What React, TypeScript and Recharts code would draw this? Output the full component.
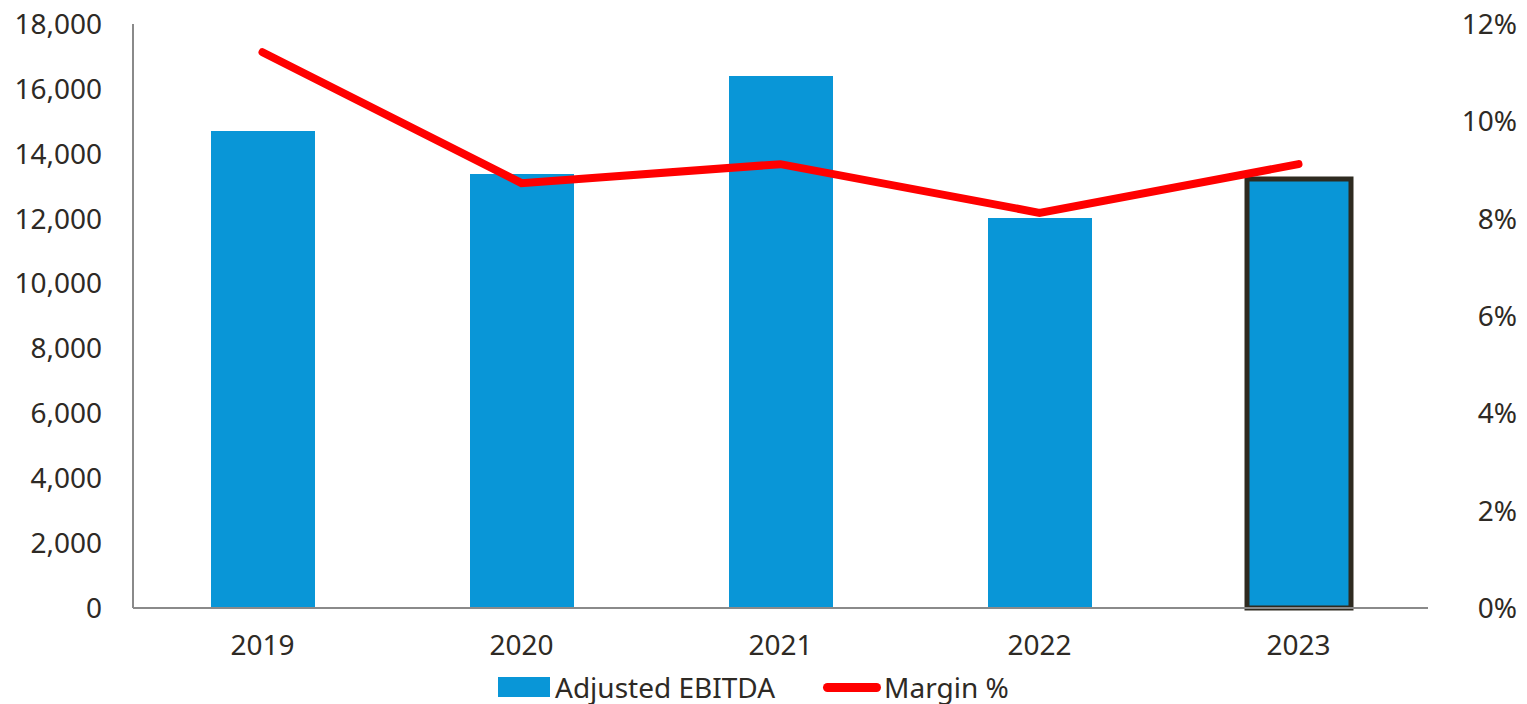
import { ComposedChart, Bar, Line, XAxis, YAxis, Legend, Cell } from "recharts";

const years = ["2019", "2020", "2021", "2022", "2023"];
const ebitda = [14700, 13380, 16400, 12020, 13220];
const margin = [0.1142, 0.0873, 0.0912, 0.0812, 0.0912];
const leftTicks = [0, 2000, 4000, 6000, 8000, 10000, 12000, 14000, 16000, 18000];
const rightTicks = [0, 0.02, 0.04, 0.06, 0.08, 0.1, 0.12];

const data = years.map((year, i) => ({ year, ebitda: ebitda[i], margin: margin[i] }));

const TEXT = "#2e2a25";
const AXIS = "#8a8a8a";
const BLUE = "#0996d7";
const RED = "#ff0000";
const FS = 28;

function RightTick(props: any) {
  const { x, y, payload } = props;
  return (
    <text x={x + 89} y={y} dy={10} textAnchor="end" fill={TEXT} fontSize={FS}>
      {`${Math.round(payload.value * 100)}%`}
    </text>
  );
}

function LegendContent() {
  return (
    <div style={{ display: "flex", alignItems: "center", fontSize: FS, color: TEXT, whiteSpace: "nowrap" }}>
      <span style={{ display: "inline-block", width: 52, height: 20, background: BLUE, marginRight: 5 }} />
      <span>Adjusted EBITDA</span>
      <span style={{ display: "inline-block", width: 58, height: 9, borderRadius: 5, background: RED, marginLeft: 48, marginRight: 3 }} />
      <span>Margin %</span>
    </div>
  );
}

export default function App() {
  return (
    <div style={{ position: "absolute", left: 0, top: 0, fontFamily: "'Noto Sans', sans-serif" }}>
      <ComposedChart width={1527} height={704} data={data} margin={{ top: 24, right: 0, left: 0, bottom: 0 }}>
        <XAxis
          dataKey="year"
          height={96}
          tickLine={false}
          tickSize={0}
          tickMargin={27}
          axisLine={{ stroke: AXIS, strokeWidth: 2 }}
          tick={{ fill: TEXT, fontSize: FS }}
        />
        <YAxis
          yAxisId="left"
          width={133}
          domain={[0, 18000]}
          ticks={leftTicks}
          interval={0}
          tickLine={false}
          tickSize={0}
          tickMargin={31}
          axisLine={{ stroke: AXIS, strokeWidth: 2 }}
          tick={{ fill: TEXT, fontSize: FS }}
          tickFormatter={(v: number) => v.toLocaleString("en-US")}
        />
        <YAxis
          yAxisId="right"
          orientation="right"
          width={99}
          domain={[0, 0.12]}
          ticks={rightTicks}
          interval={0}
          tickLine={false}
          tickSize={0}
          tickMargin={0}
          axisLine={false}
          tick={<RightTick />}
        />
        <Legend
          layout="horizontal"
          verticalAlign="middle"
          content={<LegendContent />}
          wrapperStyle={{ left: 498, top: 668, width: "auto" }}
        />
        <Bar yAxisId="left" dataKey="ebitda" name="Adjusted EBITDA" fill={BLUE} barSize={104} isAnimationActive={false}>
          {data.map((d, i) => (
            <Cell key={d.year} fill={BLUE} stroke={i === data.length - 1 ? "#2e2a20" : "none"} strokeWidth={i === data.length - 1 ? 5 : 0} />
          ))}
        </Bar>
        <Line
          yAxisId="right"
          type="linear"
          dataKey="margin"
          name="Margin %"
          stroke={RED}
          strokeWidth={8}
          strokeLinecap="round"
          dot={false}
          activeDot={false}
          isAnimationActive={false}
        />
      </ComposedChart>
    </div>
  );
}
